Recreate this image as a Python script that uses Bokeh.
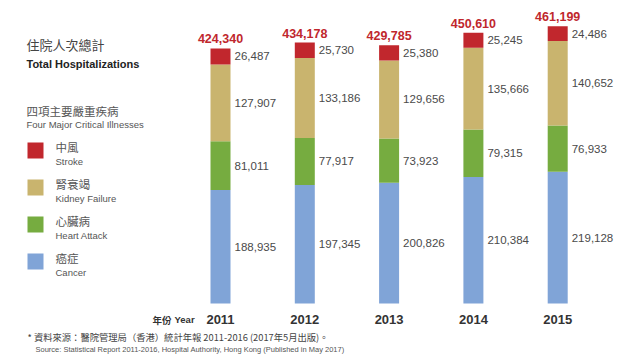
from bokeh.plotting import figure
from bokeh.models import ColumnDataSource, Range1d
from bokeh.core.properties import value
from bokeh.transform import dodge
from bokeh.embed import file_html
from bokeh.resources import INLINE

# ---------------- data ----------------
years = ["2011", "2012", "2013", "2014", "2015"]
cancer = [188935, 197345, 200826, 210384, 219128]
heart_attack = [81011, 77917, 73923, 79315, 76933]
kidney_failure = [127907, 133186, 129656, 135666, 140652]
stroke = [26487, 25730, 25380, 25245, 24486]
totals = [424340, 434178, 429785, 450610, 461199]

# ---------------- style ----------------
COL_STROKE = "#C1272D"
COL_KIDNEY = "#C9B46E"
COL_HEART = "#76AC40"
COL_CANCER = "#80A4D7"
TXT = "#4a4a4a"
EN = "Liberation Sans"
ZH = "Noto Sans CJK TC"

W, H = 630, 360
# page-pixel layout helpers
X0_PX, DX_PX = 220.0, 84.3           # centre of first bar, spacing
Y0_PX, UNITS_PER_PX = 303.0, 1664.0  # baseline, value units per pixel


def px2x(px):
    return (px - X0_PX) / DX_PX


def py2y(py):
    return (Y0_PX - py) * UNITS_PER_PX


x_range = Range1d(px2x(0), px2x(W))
y_range = Range1d(py2y(H), py2y(0))

p = figure(width=W, height=H, x_range=x_range, y_range=y_range,
           output_backend="svg", toolbar_location=None, min_border=0,
           x_axis_location=None, y_axis_location=None)
p.grid.visible = False
p.outline_line_color = None
p.background_fill_color = "white"
p.border_fill_color = "white"

# ---------------- bars ----------------
xs = list(range(len(years)))
b1 = cancer
b2 = [a + b for a, b in zip(b1, heart_attack)]
b3 = [a + b for a, b in zip(b2, kidney_failure)]
b4 = [a + b for a, b in zip(b3, stroke)]

src = ColumnDataSource(dict(
    x=xs, zero=[0] * len(xs), b1=b1, b2=b2, b3=b3, b4=b4,
    m1=[v / 2 for v in b1],
    m2=[(a + b) / 2 for a, b in zip(b1, b2)],
    m3=[(a + b) / 2 for a, b in zip(b2, b3)],
    m4=[(a + b) / 2 for a, b in zip(b3, b4)],
    t1=[f"{v:,}" for v in cancer],
    t2=[f"{v:,}" for v in heart_attack],
    t3=[f"{v:,}" for v in kidney_failure],
    t4=[f"{v:,}" for v in stroke],
    tot=[f"{v:,}" for v in totals],
    year=years,
))

bw = 20 / DX_PX
for bot, top, col in [("zero", "b1", COL_CANCER), ("b1", "b2", COL_HEART),
                      ("b2", "b3", COL_KIDNEY), ("b3", "b4", COL_STROKE)]:
    p.vbar(x="x", bottom=bot, top=top, width=bw, source=src,
           fill_color=col, line_color=None)

# segment value labels
lab_dx = 14 / DX_PX
for mid, t in [("m1", "t1"), ("m2", "t2"), ("m3", "t3"), ("m4", "t4")]:
    p.text(x=dodge("x", lab_dx), y=mid, text=t, source=src,
           text_font=value(EN), text_font_size=value("11.5px"),
           text_color=TXT, text_align="left", text_baseline="middle")

# totals
p.text(x="x", y="b4", text="tot", source=src, y_offset=-5,
       text_font=value(EN), text_font_size=value("12.5px"), text_font_style="bold",
       text_color="#C0272D", text_align="center", text_baseline="bottom")

# year labels
p.text(x="x", y=py2y(319), text="year", source=src,
       text_font=value(EN), text_font_size=value("13px"), text_font_style="bold",
       text_color="#333333", text_align="center", text_baseline="middle")


def txt(px, py, s, font, size, color=TXT, bold=False, align="left"):
    p.text(x=[px2x(px)], y=[py2y(py)], text=[s], text_font=value(font),
           text_font_size=value(size), text_color=color,
           text_font_style="bold" if bold else "normal",
           text_align=align, text_baseline="middle")


txt(171, 319, "年份", ZH, "9.5px", "#333333", bold=True, align="right")
txt(174, 319, "Year", EN, "9.5px", "#333333", bold=True)

# ---------------- titles ----------------
txt(26, 44, "住院人次總計", ZH, "13px", "#444444")
txt(26, 63, "Total Hospitalizations", EN, "11px", "#222222", bold=True)
txt(26, 110, "四項主要嚴重疾病", ZH, "11.5px", "#555555")
txt(26, 124, "Four Major Critical Illnesses", EN, "9.5px", "#555555")

# ---------------- legend ----------------
leg = [("中風", "Stroke", COL_STROKE, 150),
       ("腎衰竭", "Kidney Failure", COL_KIDNEY, 187),
       ("心臟病", "Heart Attack", COL_HEART, 224),
       ("癌症", "Cancer", COL_CANCER, 261)]
for zh, en, col, cy in leg:
    p.quad(left=[px2x(27)], right=[px2x(43)], bottom=[py2y(cy + 8)],
           top=[py2y(cy - 8)], fill_color=col, line_color=None)
    txt(55, cy - 4, zh, ZH, "11.5px", "#555555")
    txt(55, cy + 11, en, EN, "9.5px", "#555555")

# ---------------- footnotes ----------------
txt(27, 336, "* 資料來源：醫院管理局（香港）統計年報 2011-2016 (2017年5月出版)。",
    ZH, "9.3px", "#444444")
txt(35, 349, "Source: Statistical Report 2011-2016, Hospital Authority, Hong Kong (Published in May 2017)",
    EN, "7.5px", "#555555")

open("out.html", "w").write(file_html(p, INLINE))
